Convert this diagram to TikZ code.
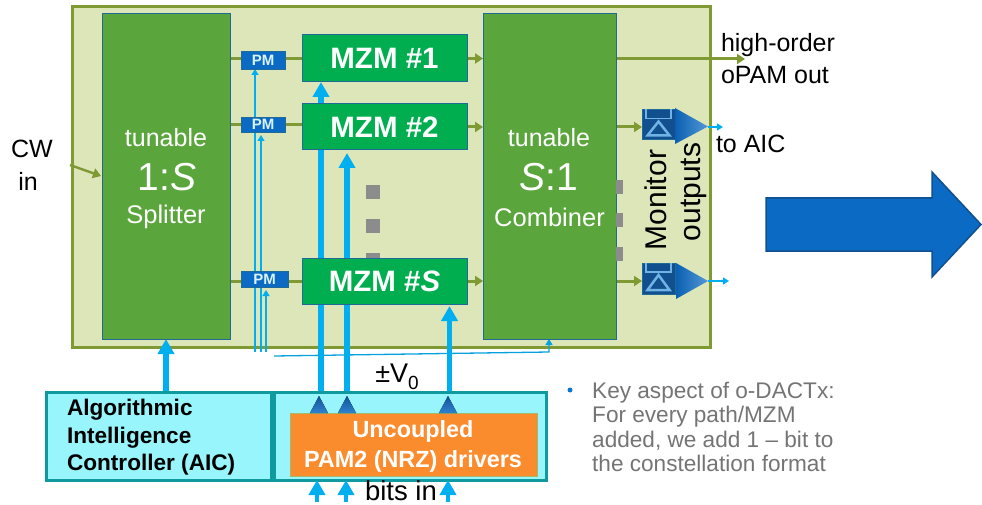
\documentclass[tikz,border=0pt]{standalone}
\usepackage{fontspec}
\setmainfont{Liberation Sans}
\usetikzlibrary{positioning, shapes, arrows, arrows.meta, shapes.geometric}
\definecolor{outerfill}{HTML}{DDE6B9}
\definecolor{outerline}{HTML}{7F9933}
\definecolor{splitfill}{HTML}{5AA63C}
\definecolor{mzmfill}{HTML}{00AE4F}
\definecolor{edgeblue}{HTML}{1F6A96}
\definecolor{pmfill}{HTML}{0B6BC4}
\definecolor{wirecyan}{HTML}{00AFF0}
\definecolor{ctrlfill}{HTML}{97F5FB}
\definecolor{ctrlline}{HTML}{0E9A9E}
\definecolor{drvfill}{HTML}{FB8C2E}
\definecolor{navy}{HTML}{124F8E}
\definecolor{lightnavy}{HTML}{6FB4E4}
\definecolor{textgrey}{HTML}{747474}
\pgfdeclarelayer{outerlayer}
\pgfdeclarelayer{wires}
\pgfsetlayers{outerlayer,wires,main}
\tikzset{>=latex}
\tikzset{
    block/.style = {rectangle, draw=edgeblue, line width=1pt, fill=splitfill, text=white, inner sep=0pt, outer sep=0pt, align=center, font=\fontsize{25}{33}\selectfont},
    mzm/.style = {rectangle, draw=edgeblue, line width=1pt, fill=mzmfill, text=white, inner sep=0pt, outer sep=0pt, minimum width=165pt, font=\fontsize{29.5}{33}\selectfont\bfseries},
    pm/.style = {rectangle, draw=edgeblue, line width=.8pt, fill=pmfill, text=white!85!wirecyan, inner sep=0pt, outer sep=0pt, font=\fontsize{15}{15}\selectfont\bfseries},
    ctrl/.style = {rectangle, draw=ctrlline, line width=3pt, fill=ctrlfill, inner sep=0pt, outer sep=0pt},
    dot/.style = {rectangle, fill=black!45, inner sep=0pt, outer sep=0pt},
    det/.style = {rectangle, draw=edgeblue, line width=1pt, fill=navy, inner sep=0pt, outer sep=0pt, minimum width=33pt, minimum height=30pt},
    label/.style = {inner sep=0pt, outer sep=0pt, font=\fontsize{25}{25}\selectfont},
    optic/.style = {draw=outerline, line width=3pt, -{Triangle[length=8pt,width=10pt]}},
    thin wire/.style = {draw=wirecyan, line width=1.3pt, -{Triangle[length=6pt,width=7pt]}},
    thick wire/.style = {draw=wirecyan, line width=5.5pt, -{Triangle[length=15pt,width=16pt]}}
}
\begin{document}
\begin{tikzpicture}[x=1pt,y=-1pt]
	\useasboundingbox (0,0) rectangle (982,505);
	% blocks
	\begin{pgfonlayer}{outerlayer}
		\node (chip) [rectangle, draw=outerline, line width=3pt, fill=outerfill, minimum width=638pt, minimum height=340pt, inner sep=0pt, outer sep=0pt] at (391,177) {};
	\end{pgfonlayer}
	\node (splitter) [block, minimum width=128pt, minimum height=325pt] at (166,176.5) {};
	\node (combiner) [block, minimum width=133pt, minimum height=325pt] at (549.5,176.5) {};
	\node (mzma) [mzm, minimum height=47pt] at (384.5,58.5) {MZM \#1};
	\node (mzmb) [mzm, minimum height=46pt] at (384.5,127) {MZM \#2};
	\node (mzms) [mzm, minimum height=46pt] at (384.5,281) {MZM \#\textit{S}};
	\node (pma) [pm, minimum width=44pt, minimum height=18pt] at (263,60) {PM};
	\node (pmb) [pm, minimum width=44pt, minimum height=15pt] at (263,124.5) {PM};
	\node (pms) [pm, minimum width=47pt, minimum height=16pt] at (264.5,279.5) {PM};
	% text in the big blocks
	\node (tuna) [label, text=white, font=\fontsize{25}{25}\selectfont] at (166,138) {tunable};
	\node (onetos) [label, text=white, font=\fontsize{39}{39}\selectfont] at (167,177) {1:\textit{S}};
	\node (split) [label, text=white, font=\fontsize{25.5}{25.5}\selectfont] at (166,217) {Splitter};
	\node (tunb) [label, text=white, font=\fontsize{25}{25}\selectfont] at (549,138) {tunable};
	\node (stoone) [label, text=white, font=\fontsize{39}{39}\selectfont] at (549,177) {\textit{S}:1};
	\node (comb) [label, text=white, font=\fontsize{25.5}{25.5}\selectfont] at (549.5,217) {Combiner};
	% dots
	\foreach \y/\h in {192/14, 226/14, 255.5/5}
		\node (dot\y) [dot, minimum width=14pt, minimum height=\h pt] at (373,\y) {};
	\foreach \y in {187, 220, 254}
		\node (rdot\y) [dot, minimum width=7pt, minimum height=14pt] at (619.5,\y) {};
	% monitors
	\node (deta) [det] at (658.5,124.5) {};
	\node (detb) [det, minimum height=31pt] at (658.5,278.5) {};
	\foreach \d in {deta, detb} {
		\draw [lightnavy, line width=1.5pt] ([xshift=4pt]\d.north west) -- ++(0,9) -- ([xshift=-4pt,yshift=-9pt]\d.north east) -- ++(0,-9);
		\draw [lightnavy, line width=2.5pt] ([yshift=-12pt]\d.north) -- ([xshift=-11pt,yshift=4pt]\d.south) -- ([xshift=11pt,yshift=4pt]\d.south) -- cycle;
	}
	\shade [left color=pmfill!90!black, right color=pmfill!70!white] (675,108) -- (708,126.5) -- (675,144) -- cycle;
	\shade [left color=pmfill!90!black, right color=pmfill!70!white] (676,263) -- (708,281) -- (676,299) -- cycle;
	\coordinate (tipa) at (708,127);
	\coordinate (tipb) at (708,281);
	% controller and drivers
	\node (aic) [ctrl, minimum width=225pt, minimum height=88pt] at (158.5,436) {};
	\node (drvbox) [ctrl, minimum width=272pt, minimum height=88pt] at (410,436) {};
	\node (drv) [rectangle, draw=outerline!70, line width=1pt, fill=drvfill, text=white, inner sep=0pt, minimum width=247pt, minimum height=63pt] at (413.5,444.5) {};
	\node (drva) [text=white, inner sep=0pt, font=\fontsize{23.4}{23.4}\selectfont\bfseries] at (413,431) {Uncoupled};
	\node (drvb) [text=white, inner sep=0pt, font=\fontsize{23.4}{23.4}\selectfont\bfseries] at (413,461) {PAM2 (NRZ) drivers};
	\node (aica) [label, anchor=west, font=\fontsize{22.6}{22.6}\selectfont\bfseries] at (67,410) {Algorithmic};
	\node (aicb) [label, anchor=west, font=\fontsize{22.6}{22.6}\selectfont\bfseries] at (67,438) {Intelligence};
	\node (aicc) [label, anchor=west, font=\fontsize{22.6}{22.6}\selectfont\bfseries] at (67,465) {Controller (AIC)};
	\foreach \x in {319, 347, 448}
		\fill [top color=navy!80!pmfill, bottom color=pmfill!85!white] (\x,396) -- (\x+9,413) -- (\x-9,413) -- cycle;
	\coordinate (drvp) at (321,398);
	\coordinate (drvq) at (347,396);
	\coordinate (drvr) at (449.5,392);
	% free ends of the wires
	\coordinate (cwin) at (70,165);
	\coordinate (cwend) at (101,176);
	\coordinate (rfa) at (255,352);
	\coordinate (rfb) at (261,352);
	\coordinate (rfc) at (266,352);
	\coordinate (buslft) at (274,356);
	\coordinate (busrgt) at (549,352);
	\coordinate (hoout) at (745,59);
	\coordinate (mona) at (723,127);
	\coordinate (monb) at (729,281);
	\coordinate (bita) at (317,502);
	\coordinate (bitb) at (346,502);
	\coordinate (bitc) at (448,502);
	\begin{pgfonlayer}{wires}
		\draw [optic, -] (splitter.east |- mzma) -- (mzma.west);
		\draw [optic, -] (splitter.east |- pmb) -- (mzmb.west |- pmb);
		\draw [optic, -] (splitter.east |- mzms) -- (mzms.west);
		\draw [optic] (mzma.east) -- (combiner.west |- mzma);
		\draw [optic] (mzmb.east) -- (combiner.west |- mzmb);
		\draw [optic] (mzms.east) -- (combiner.west |- mzms);
		\draw [optic] (combiner.east |- hoout) -- (hoout);
		\draw [optic] (combiner.east |- tipa) -- (deta.west |- tipa);
		\draw [optic] (combiner.east |- tipb) -- (detb.west |- tipb);
		\draw [thin wire] (rfa) -- (rfa |- pma.south);
		\draw [thin wire] (rfb) -- (261,135);
		\draw [thin wire] (rfc) -- (266,290);
		\draw [wirecyan!80!edgeblue, line width=1.3pt, -{Triangle[length=6pt,width=7pt]}] (buslft) -- (busrgt) -- (combiner.south -| busrgt);
		\draw [thick wire] (drvp) -- (drvp |- mzma.south);
		\draw [thick wire] (drvq) -- (347,153);
		\draw [thick wire] (drvr) -- (449.5,306);
		\draw [thick wire] (aic.north -| splitter) -- (splitter.south);
		\draw [thin wire] (tipa) -- (mona);
		\draw [thin wire] (tipb) -- (monb);
	\end{pgfonlayer}
	\draw [optic, line width=2.4pt] (cwin) -- (cwend);
	\draw [thick wire, line width=4pt] (bita) -- (bita |- drvbox.south);
	\draw [thick wire, line width=4pt] (bitb) -- (bitb |- drvbox.south);
	\draw [thick wire, line width=4pt] (bitc) -- (bitc |- drvbox.south);
	% labels
	\node (cw) [label] at (32,149) {CW};
	\node (in) [label] at (28,181) {in};
	\node (hoa) [label, anchor=west] at (721,45) {high-order};
	\node (hob) [label, anchor=west] at (721,75) {oPAM out};
	\node (toaic) [label, anchor=west] at (716,144) {to AIC};
	\node (monitor) [label, rotate=90, font=\fontsize{30}{30}\selectfont] at (656,200) {Monitor};
	\node (outputs) [label, rotate=90, font=\fontsize{30}{30}\selectfont] at (694,192) {outputs};
	\node (vzero) [label, font=\fontsize{27}{27}\selectfont] at (397,377) {±V\raisebox{-7pt}{\fontsize{19}{19}\selectfont 0}};
	\node (bits) [label, font=\fontsize{27.5}{27.5}\selectfont] at (401,491) {bits in};
	% key aspect
	\node (bullet) [circle, fill=pmfill!80!wirecyan, minimum size=5pt, inner sep=0pt] at (570,390) {};
	\node (aspect) [anchor=north west, align=left, text=textgrey, inner sep=0pt, font=\fontsize{22.6}{24.3}\selectfont] at (592,382) {Key aspect of o-DACTx:\\For every path/MZM\\added, we add 1 -- bit to\\the constellation format};
	% big arrow
	\draw [draw=navy, line width=1.5pt, fill=pmfill] (766,198) -- (932,198) -- (932,172) -- (981,224.5) -- (932,277) -- (932,251) -- (766,251) -- cycle;
\end{tikzpicture}
\end{document}
